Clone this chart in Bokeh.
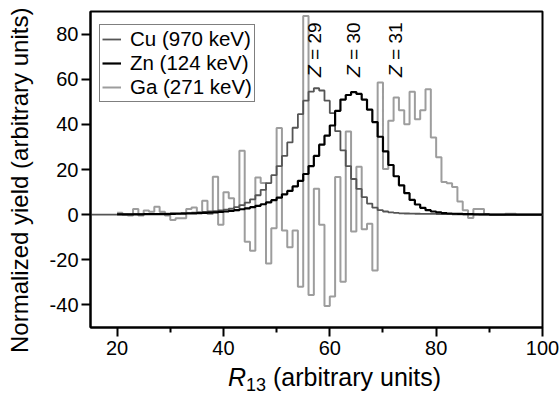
import math
from bokeh.plotting import figure
from bokeh.models import Range1d, Legend, LegendItem, FixedTicker, ColumnDataSource, Div
from bokeh.layouts import column, row
from bokeh.core.properties import value
from bokeh.embed import file_html
from bokeh.resources import INLINE

# ---------------- data (bin left edges, bin width 1) ----------------
cu_start = 15
cu_vals = [0, 0, 0, 0, 0,
           0.1, 0.1, 0.15, 0.2, 0.2, 0.25, 0.3, 0.35, 0.4, 0.45,
           0.5, 0.6, 0.7, 0.8, 0.9, 1.0, 1.2, 1.4, 1.6, 1.9,
           2.2, 2.7, 3.3, 4.2, 5.3, 6.8, 8.6, 11, 14, 17.5,
           21.5, 26, 32, 38.5, 44.5, 50.5, 54.5, 56, 55, 50.5,
           45, 37, 28.5, 21.5, 15.8, 11.4, 7.8, 4.9, 3.1, 2.0,
           1.4, 1.0, 0.8, 0.6, 0.5, 0.45, 0.4, 0.35, 0.3, 0.3,
           0.25, 0.2, 0.2, 0.15, 0.15, 0.1, 0.1, 0.1, 0.05, 0.05,
           0, 0, 0, 0, 0, 0, 0, 0, 0, 0]

zn_start = 20
zn_vals = [0.1, 0.1, 0.1, 0.15, 0.15, 0.2, 0.2, 0.2, 0.25, 0.25,
           0.35, 0.4, 0.45, 0.5, 0.6, 0.7, 0.8, 0.9, 1.0, 1.2,
           1.4, 1.7, 2.0, 2.4, 2.8, 3.3, 3.9, 4.6, 5.4, 6.4,
           7.5, 9, 10.5, 12.5, 15, 18, 21.5, 26, 31, 35,
           39.5, 46, 51, 53, 54.3, 53.5, 51, 46.5, 41, 34.5,
           28, 22, 17, 13, 9.5, 6.5, 4.5, 3, 2, 1.4,
           1.0, 0.7, 0.5, 0.4, 0.3, 0.25, 0.2, 0.15, 0.1, 0.1,
           0.05, 0.05, 0, 0, 0, 0, 0, 0, 0, 0]

ga_start = 20
ga_vals = [0.8, 0, -0.4, 2.5, -0.4, 1.8, 1.3, 3.5, 1.3, -0.4,
           -2.4, -1.6, -1.6, 2.5, 3.2, 1.0, 6.2, 0.3, 16.8, -4.5,
           9.9, 7.3, 2.0, 28.3, -12, -16, 16.5, 14, -21.6, -6,
           38.4, -7, -14.5, -7, -32, 88, -35.6, 11.5, -4.5, -40.5,
           -36.3, 16.7, -29.7, 36.8, -7.5, 21.2, -6.5, -4, -24.7, 58.5,
           20.2, 41.6, 51.9, 46.3, 40.1, 54.4, 42.3, 46.3, 55.6, 34.2,
           25.4, 14.5, 13.9, 12.2, 5.8, 2, -1.5, 2.5, 2.5, 0.3,
           0, 0, 0, 0.4, 0.4, 0, 0, 0, 0, 0]

series_labels = ["Cu (970 keV)", "Zn (124 keV)", "Ga (271 keV)"]
z_labels = ["29", "30", "31"]
z_x = [57.2, 64.5, 72.4]
x_ticks = [20, 40, 60, 80, 100]
x_minor_ticks = [30, 50, 70, 90]
y_ticks = [-40, -20, 0, 20, 40, 60, 80]
y_tick_labels = ["-40", "-20", "0", "20", "40", "60", "80"]
y_title = "Normalized yield (arbitrary units)"

FONT = "Liberation Sans"
LEFT_W = 40


def step_xy(start, vals):
    xs = [start + i for i in range(len(vals) + 1)]
    ys = list(vals) + [vals[-1]]
    return xs, ys


p = figure(width=560 - LEFT_W, height=362, x_range=Range1d(15, 100), y_range=Range1d(-50, 90),
           output_backend="svg", toolbar_location=None,
           min_border_left=90 - LEFT_W, min_border_right=18, min_border_top=11, min_border_bottom=35)
p.grid.visible = False
p.outline_line_color = "black"
p.outline_line_width = 2
p.background_fill_color = "white"
p.border_fill_color = "white"

for ax in (p.xaxis[0], p.yaxis[0]):
    ax.axis_line_width = 2
    ax.axis_line_color = "black"
    ax.major_tick_line_width = 2
    ax.minor_tick_line_width = 2
    ax.major_tick_out = 9
    ax.major_tick_in = 0
    ax.minor_tick_out = 5
    ax.minor_tick_in = 0
    ax.major_label_text_font = FONT
    ax.major_label_text_font_size = "20px"
    ax.major_label_text_color = "black"

p.xaxis.ticker = FixedTicker(ticks=x_ticks, minor_ticks=x_minor_ticks)
p.yaxis.ticker = FixedTicker(ticks=y_ticks)
p.yaxis.minor_tick_line_color = None
p.yaxis.major_label_overrides = {t: l for t, l in zip(y_ticks, y_tick_labels)}
p.xaxis.major_label_standoff = 4
p.yaxis.major_label_standoff = 3

gx, gy = step_xy(ga_start, ga_vals)
cx, cy = step_xy(cu_start, cu_vals)
zx, zy = step_xy(zn_start, zn_vals)

r_ga = p.step(gx, gy, mode="after", line_color="#9d9d9d", line_width=2)
r_cu = p.step(cx, cy, mode="after", line_color="#555555", line_width=1.8)
r_zn = p.step(zx, zy, mode="after", line_color="black", line_width=2.2)

legend = Legend(items=[LegendItem(label=series_labels[0], renderers=[r_cu]),
                       LegendItem(label=series_labels[1], renderers=[r_zn]),
                       LegendItem(label=series_labels[2], renderers=[r_ga])],
                location=(9, 225), label_text_font=FONT, label_text_font_size="20.5px",
                label_text_color="black", glyph_width=19, glyph_height=24, label_height=24,
                spacing=0, padding=2, margin=0, label_standoff=9,
                border_line_color="black", border_line_width=1.5,
                background_fill_color="white", background_fill_alpha=1)
p.add_layout(legend)

# Z labels (rotated)
z_y = 61.0
z_shift = 17 * 140 / 316  # italic Z plus a space, in data units
src_z = ColumnDataSource(dict(x=z_x, y=[z_y] * 3, t=["Z"] * 3))
src_r = ColumnDataSource(dict(x=z_x, y=[z_y + z_shift] * 3, t=["= " + s for s in z_labels]))
p.text(x="x", y="y", text="t", source=src_z, angle=math.pi / 2, text_align="left",
       text_baseline="middle", text_font=value(FONT), text_font_style="italic",
       text_font_size="19px", text_color="black")
p.text(x="x", y="y", text="t", source=src_r, angle=math.pi / 2, text_align="left",
       text_baseline="middle", text_font=value(FONT), text_font_size="19px", text_color="black")

# y axis title (rotated, bottom-to-top)
ylabel = Div(
    text=('<div style="width:0px;height:39px;line-height:39px;font-family:\'Liberation Sans\';'
          'font-size:24px;color:black;white-space:nowrap;transform-origin:0 0;'
          'transform:translate(0px,353px) rotate(-90deg);">' + y_title + '</div>'),
    width=LEFT_W, height=397, margin=0)

# x axis title (italic R with subscript 13)
xlabel = Div(
    text=('<div style="padding-left:' + str(228 - LEFT_W) + 'px;padding-top:3px;'
          'font-family:\'Liberation Sans\';font-size:25px;line-height:25px;color:black;'
          'white-space:nowrap;">'
          '<span style="font-style:italic">R</span>'
          '<span style="font-size:18px;position:relative;top:5px">13</span>'
          ' (arbitrary units)</div>'),
    width=560 - LEFT_W, height=35, margin=0)

layout = row(ylabel, column(p, xlabel, spacing=0), spacing=0)
open("out.html", "w").write(file_html(layout, INLINE))
